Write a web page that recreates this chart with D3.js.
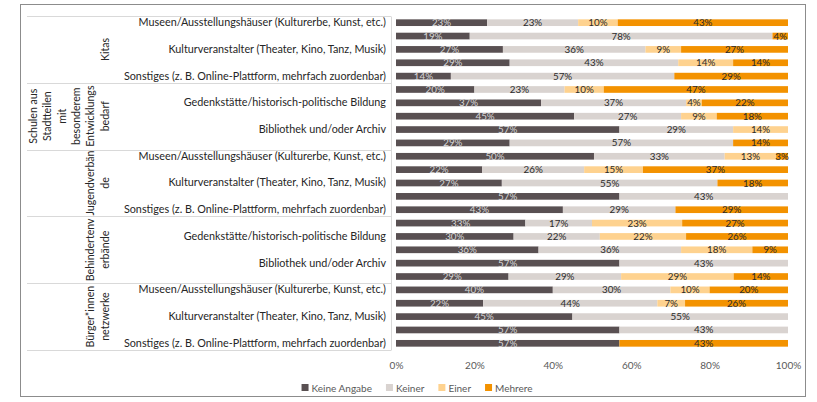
<!DOCTYPE html>
<html>
<head>
<meta charset="utf-8">
<script src="https://cdn.jsdelivr.net/npm/d3@7"></script>
<style>
  body { margin: 0; background: #fff; }
  text { font-family: Lato, "Open Sans", sans-serif; }
</style>
</head>
<body>
<div id="chart"></div>
<script>
// groups (multi-level axis), with the line breaks Excel used
const groups = ["Kitas", "Schulen aus Stadtteilen mit besonderem Entwicklungsbedarf", "Jugendverbände", "Behindertenverbände", "Bürger*innennetzwerke"]
const groupLines = [
  ["Kitas"],
  ["Schulen aus", "Stadtteilen", "mit", "besonderem", "Entwicklungs", "bedarf"],
  ["Jugendverbän", "de"],
  ["Behindertenv", "erbände"],
  ["Bürger*innen", "netzwerke"]
]
const categories = [
  "Museen/Ausstellungshäuser (Kulturerbe, Kunst, etc.)",
  "Gedenkstätte/historisch-politische Bildung",
  "Kulturveranstalter (Theater, Kino, Tanz, Musik)",
  "Bibliothek und/oder Archiv",
  "Sonstiges (z. B. Online-Plattform, mehrfach zuordenbar)"
]
const seriesNames = ["Keine Angabe", "Keiner", "Einer", "Mehrere"]
const colors = ["#595052", "#d9d3d0", "#fed28f", "#f39200"]

// values per row (group x category, top to bottom), in percent
const keineAngabe = [23, 19, 27, 29, 14,  20, 37, 45, 57, 29,  50, 22, 27, 57, 43,  33, 30, 36, 57, 29,  40, 22, 45, 57, 57]
const keiner      = [23, 78, 36, 43, 57,  23, 37, 27, 29, 57,  33, 26, 55, 43, 29,  17, 22, 36, 43, 29,  30, 44, 55, 43, 0]
const einer       = [10, 0, 9, 14, 0,     10, 4, 9, 14, 0,     13, 15, 0, 0, 0,     23, 22, 18, 0, 29,   10, 7, 0, 0, 0]
const mehrere     = [43, 4, 27, 14, 29,   47, 22, 18, 0, 14,   3, 37, 18, 0, 29,    27, 26, 9, 0, 14,    20, 26, 0, 0, 43]
const xTicks = [0, 0.2, 0.4, 0.6, 0.8, 1]

// build the rows table
const rows = []
groups.forEach((g, gi) => {
  categories.forEach((c, ci) => {
    const i = gi * categories.length + ci
    rows.push({id: i, group: gi, cat: c,
      "Keine Angabe": keineAngabe[i], "Keiner": keiner[i], "Einer": einer[i], "Mehrere": mehrere[i]})
  })
})

const W = 817, H = 402
const plotL = 396, plotR = 788, plotT = 16, plotB = 350

const svg = d3.select("#chart").append("svg")
  .attr("width", W).attr("height", H)

// chart border
svg.append("rect")
  .attr("x", 20.5).attr("y", 4.5)
  .attr("width", 785).attr("height", 392)
  .attr("fill", "none").attr("stroke", "#8c8c8c")

const x = d3.scaleLinear().domain([0, 1]).range([plotL, plotR])
const y = d3.scaleBand().domain(rows.map(d => d.id)).range([plotT, plotB]).paddingInner(0.5).paddingOuter(0.25)

const stack = d3.stack().keys(seriesNames).offset(d3.stackOffsetExpand)
const stacked = stack(rows)

// bars
const layer = svg.append("g").selectAll("g")
  .data(stacked)
  .join("g")
  .attr("fill", (d, i) => colors[i])

layer.selectAll("rect")
  .data(d => d)
  .join("rect")
  .attr("x", d => x(d[0]))
  .attr("y", d => y(d.data.id))
  .attr("width", d => x(d[1]) - x(d[0]))
  .attr("height", y.bandwidth())

// value labels
stacked.forEach((s, si) => {
  svg.append("g").selectAll("text")
    .data(s.filter(d => d.data[s.key] > 0))
    .join("text")
    .attr("x", d => (x(d[0]) + x(d[1])) / 2)
    .attr("y", d => y(d.data.id) + y.bandwidth() / 2)
    .attr("dy", "0.36em")
    .attr("text-anchor", "middle")
    .attr("font-size", "9.8px")
    .attr("fill", si === 0 ? "#d6d6d6" : "#2b2b2b")
    .text(d => d.data[s.key] + "%")
})

// category axis (every other label, like Excel)
const yAxis = d3.axisLeft(y)
  .tickSize(0)
  .tickPadding(5)
  .tickFormat(id => id % 2 ? "" : rows[id].cat)

const gy = svg.append("g")
  .attr("transform", "translate(391,0)")
  .call(yAxis)
gy.select(".domain").attr("stroke", "#d9d9d9")
gy.selectAll("text")
  .attr("font-size", "10.8px")
  .attr("fill", "#262626")
  .attr("font-family", "Lato, sans-serif")

// group separators
const sep = d3.range(groups.length + 1).map(k => plotT + k * (plotB - plotT) / groups.length)
svg.append("g").selectAll("line")
  .data(sep)
  .join("line")
  .attr("x1", 27).attr("x2", 391)
  .attr("y1", d => Math.round(d) + 0.5).attr("y2", d => Math.round(d) + 0.5)
  .attr("stroke", "#d9d9d9")

// rotated group labels
groupLines.forEach((lines, gi) => {
  const cy = (sep[gi] + sep[gi + 1]) / 2
  lines.forEach((ln, li) => {
    const cx = 105 - (lines.length - 1 - li) * 14.4
    svg.append("text")
      .attr("transform", "translate(" + cx + "," + cy + ") rotate(-90)")
      .attr("text-anchor", "middle")
      .attr("dy", "0.35em")
      .attr("font-size", "10.6px")
      .attr("fill", "#262626")
      .text(ln)
  })
})

// x axis
const xAxis = d3.axisBottom(x)
  .tickValues(xTicks)
  .tickSize(0)
  .tickPadding(12)
  .tickFormat(d3.format(".0%"))
const gx = svg.append("g")
  .attr("transform", "translate(0," + plotB + ")")
  .call(xAxis)
gx.select(".domain").remove()
gx.selectAll("text")
  .attr("font-size", "10px")
  .attr("fill", "#595959")
  .attr("font-family", "Lato, sans-serif")

// legend, centred under the chart
const legend = svg.append("g")
const items = legend.selectAll("g")
  .data(seriesNames)
  .join("g")
items.append("rect")
  .attr("width", 7).attr("height", 7)
  .attr("y", -4)
  .attr("fill", (d, i) => colors[i])
items.append("text")
  .attr("x", 10)
  .attr("dy", "0.35em")
  .attr("font-size", "10px")
  .attr("fill", "#595959")
  .text(d => d)
let off = 0
items.each(function() {
  d3.select(this).attr("transform", "translate(" + off + ",0)")
  off += 10 + d3.select(this).select("text").node().getComputedTextLength() + 14
})
legend.attr("transform", "translate(" + (417 - (off - 14) / 2) + ",388)")
</script>
</body>
</html>
